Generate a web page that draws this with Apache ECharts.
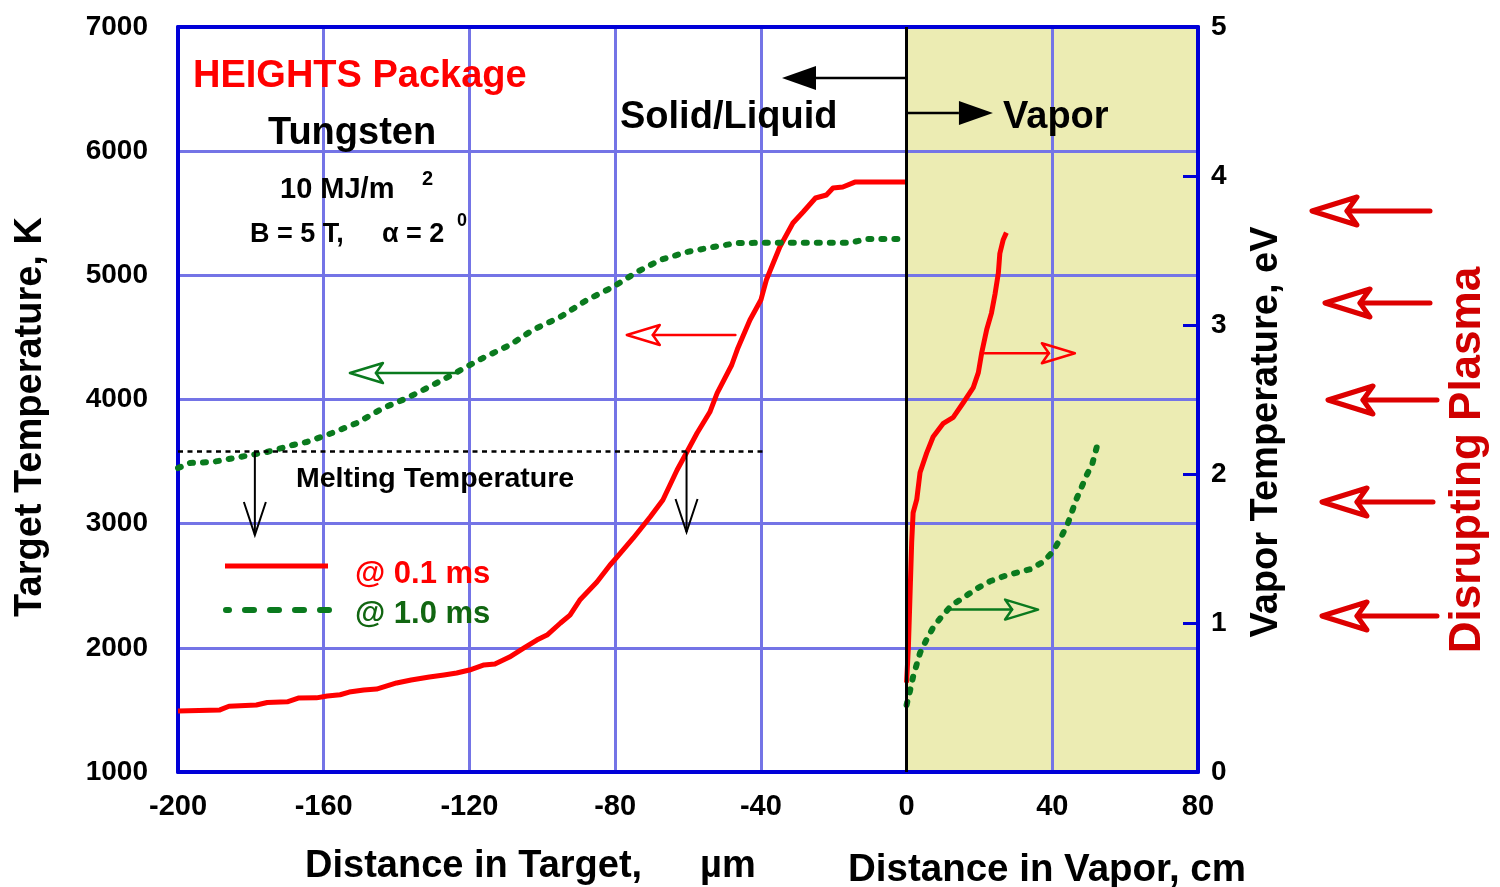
<!DOCTYPE html>
<html><head><meta charset="utf-8">
<script src="https://cdn.jsdelivr.net/npm/echarts@6/dist/echarts.min.js"></script>
<style>html,body{margin:0;padding:0;background:#fff}#c{width:1500px;height:887px}</style>
</head><body><div id="c"></div>
<script>
// ---- data ----
const xTickStep = 40;           // distance axis: µm (<0) in target, cm (>0) in vapor
const xRange = [-200, 80];
const leftRange = [1000, 7000]; // Target temperature, K
const rightRange = [0, 5];      // Vapor temperature, eV
const vaporRange = [0, 80];
const meltingT = 3580;
const meltingLineEnd = -39;

// target temperature (K) vs depth (µm) at 0.1 ms
const target01 = [[-200,1491],[-188.5,1500],[-186,1530],[-178.5,1540],[-175.5,1560],[-170,1565],[-167,1595],[-162,1597],[-159,1612],[-155.5,1622],[-153,1644],[-149,1660],[-145.5,1668],[-140,1717],[-136,1741],[-131,1765],[-127,1781],[-123.5,1797],[-120,1821],[-116,1862],[-113,1870],[-109,1926],[-105,1999],[-101.5,2063],[-98.7,2103],[-95,2200],[-92.4,2264],[-89.7,2385],[-85,2530],[-81.4,2667],[-79.5,2731],[-75,2885],[-70.4,3054],[-66.9,3191],[-63,3432],[-60.3,3577],[-57.5,3730],[-54,3899],[-52,4052],[-48,4278],[-46.3,4415],[-43,4640],[-40,4801],[-38.5,4962],[-34.8,5228],[-31.2,5421],[-28.4,5510],[-25,5623],[-22,5647],[-20.2,5703],[-17.5,5711],[-14.2,5751],[0,5751]];
// target temperature (K) vs depth (µm) at 1.0 ms
const target10 = [[-200,3448],[-196.7,3489],[-190.4,3497],[-183,3537],[-175.6,3577],[-168.4,3634],[-164.6,3658],[-157.7,3730],[-150.9,3811],[-143.7,3931],[-137.1,4012],[-130,4117],[-123.4,4221],[-116.3,4334],[-108.9,4439],[-102.6,4560],[-95.1,4664],[-87.8,4801],[-80.6,4906],[-74,5027],[-67.7,5123],[-60.3,5188],[-53.1,5228],[-46.6,5260],[-40,5262],[-15.5,5262],[-11,5293],[0,5293]];
// vapor temperature (eV) vs distance (cm) at 0.1 ms
const vapor01 = [[0,0.6],[0.5,0.84],[0.9,1.15],[1.4,1.54],[1.8,1.74],[2.8,1.83],[3.7,2.01],[5.5,2.14],[7.3,2.25],[10.1,2.34],[12.8,2.38],[15.6,2.48],[18.3,2.58],[19.7,2.68],[20.6,2.81],[22,2.97],[23.3,3.08],[24.3,3.21],[25.2,3.35],[25.6,3.48],[26.5,3.57],[27.4,3.62]];
// vapor temperature (eV) vs distance (cm) at 1.0 ms
const vapor10 = [[0,0.45],[0.9,0.54],[1.8,0.64],[3.7,0.8],[5.5,0.89],[7.3,0.97],[9.2,1.03],[12.4,1.12],[15.6,1.17],[19.2,1.23],[22.9,1.28],[27.4,1.32],[33.8,1.36],[37.5,1.41],[40.2,1.48],[42.5,1.58],[44.3,1.67],[46.6,1.83],[48,1.91],[49.4,1.99],[51,2.07],[52.2,2.18]];

// ---- annotation anchors (data coords) ----
const openArrows = [
  {from:[-47,4520], to:[-76.8,4520], color:'#ff0000', y:0},
  {from:[-123.4,4213], to:[-152.8,4213], color:'#0a7a1e', y:0},
  {from:[21.5,2.81], to:[46.2,2.81], color:'#ff0000', y:1},
  {from:[11.4,1.09], to:[36.1,1.09], color:'#0a7a1e', y:1}
];
const filledArrows = [
  {from:[0,6589], to:[-34.2,6589]},
  {from:[0,6307], to:[23.7,6307]}
];
const meltArrows = [
  {x:-178.9, from:meltingT, to:2909},
  {x:-60.4, from:meltingT, to:2933}
];

const F = '"Liberation Sans", Arial, Helvetica, sans-serif';
const BLUE = '#0000d8', GRIDC = '#7474e6';
const RED = '#ff0000', GREEN = '#0a7a1e';

const chart = echarts.init(document.getElementById('c'), null, {renderer:'canvas'});
const lbl = (m, extra) => Object.assign({fontSize:28, fontWeight:'bold', color:'#000', fontFamily:F, margin:m, formatter:v => String(v)}, extra||{});

const option = {
  animation:false,
  grid:{left:178, right:302, top:27, bottom:115},
  xAxis:[
    {type:'value', min:xRange[0], max:xRange[1], interval:xTickStep,
     axisLine:{show:true, onZero:false, lineStyle:{color:BLUE, width:4}},
     axisTick:{show:false},
     axisLabel:lbl(20,{fontSize:29}),
     splitLine:{show:true, lineStyle:{color:GRIDC, width:3}}},
    {type:'value', position:'top', min:xRange[0], max:xRange[1], interval:xTickStep,
     axisLine:{show:true, onZero:false, lineStyle:{color:BLUE, width:4}},
     axisTick:{show:false}, axisLabel:{show:false}, splitLine:{show:false}}
  ],
  yAxis:[
    {type:'value', position:'left', min:leftRange[0], max:leftRange[1], interval:1000,
     axisLine:{show:true, onZero:false, lineStyle:{color:BLUE, width:4}},
     axisTick:{show:false},
     axisLabel:lbl(30,{padding:[0,0,14,0]}),
     splitLine:{show:true, lineStyle:{color:GRIDC, width:3}}},
    {type:'value', position:'right', min:rightRange[0], max:rightRange[1], interval:1,
     axisLine:{show:true, onZero:false, lineStyle:{color:BLUE, width:4}},
     axisTick:{show:true, inside:true, length:15, lineStyle:{color:BLUE, width:3}},
     axisLabel:lbl(13,{padding:[0,0,10,0]}),
     splitLine:{show:false}}
  ],
  series:[
    {type:'custom', z:-1, silent:true, xAxisIndex:0, yAxisIndex:0, data:[[vaporRange[0], leftRange[0]]],
     renderItem:function(params, api){
       const p0 = api.coord([vaporRange[0], leftRange[1]]);
       const p1 = api.coord([vaporRange[1], leftRange[0]]);
       return {type:'rect', shape:{x:p0[0], y:p0[1], width:p1[0]-p0[0], height:p1[1]-p0[1]}, style:{fill:'#ececb3'}};
     }},
    {name:'@ 0.1 ms', type:'line', data:target01, xAxisIndex:0, yAxisIndex:0, symbol:'none', z:3,
     lineStyle:{color:RED, width:5, join:'round'},
     markLine:{silent:true, symbol:'none', label:{show:false},
       data:[
         [{coord:[0,leftRange[0]], lineStyle:{color:'#000', width:3, type:'solid'}},{coord:[0,leftRange[1]]}],
         [{coord:[xRange[0],meltingT], lineStyle:{color:'#000', width:2.5, type:[5,4.5]}},{coord:[meltingLineEnd,meltingT]}]
       ]}},
    {name:'@ 1.0 ms', type:'line', data:target10, xAxisIndex:0, yAxisIndex:0, symbol:'none', z:3,
     lineStyle:{color:GREEN, width:6, type:[3,10], cap:'round'}},
    {name:'vapor 0.1', type:'line', data:vapor01, xAxisIndex:0, yAxisIndex:1, symbol:'none', z:3,
     lineStyle:{color:RED, width:5, join:'round'}},
    {name:'vapor 1.0', type:'line', data:vapor10, xAxisIndex:0, yAxisIndex:1, symbol:'none', z:3,
     lineStyle:{color:GREEN, width:6, type:[3,10], cap:'round'}}
  ]
};
chart.setOption(option);

// ---- annotations ----
const px = (p, yi) => chart.convertToPixel({xAxisIndex:0, yAxisIndex:yi}, p);
const G = [];
function txt(s, x, y, size, color, opts){
  opts = opts || {};
  G.push({type:'text', x:x, y:y, rotation:opts.rot||0, z:100,
    style:{text:s, fill:color, font:'bold '+size+'px '+F,
      textAlign:opts.align||'left', align:opts.align||'left',
      textVerticalAlign:'middle', verticalAlign:'middle'}});
}
function openArrow(tail, tip, color, lw, len, half, notch){
  const dx = tail[0]-tip[0], dy = tail[1]-tip[1];
  const L = Math.hypot(dx,dy), ux = dx/L, uy = dy/L, qx = -uy, qy = ux;
  const pts = [[tip[0],tip[1]],
    [tip[0]+ux*len+qx*half, tip[1]+uy*len+qy*half],
    [tip[0]+ux*notch, tip[1]+uy*notch],
    [tip[0]+ux*len-qx*half, tip[1]+uy*len-qy*half]];
  G.push({type:'polygon', z:100, shape:{points:pts}, style:{fill:'none', stroke:color, lineWidth:lw, lineJoin:'round'}});
  G.push({type:'line', z:100, shape:{x1:tail[0], y1:tail[1], x2:tip[0]+ux*notch, y2:tip[1]+uy*notch}, style:{stroke:color, lineWidth:lw, lineCap:'round'}});
}
function filledArrow(tail, tip, len, half){
  const dx = tail[0]-tip[0], dy = tail[1]-tip[1];
  const L = Math.hypot(dx,dy), ux = dx/L, uy = dy/L, qx = -uy, qy = ux;
  G.push({type:'line', z:100, shape:{x1:tail[0], y1:tail[1], x2:tip[0]+ux*len, y2:tip[1]+uy*len}, style:{stroke:'#000', lineWidth:2.5}});
  G.push({type:'polygon', z:100, shape:{points:[[tip[0],tip[1]],[tip[0]+ux*len+qx*half, tip[1]+uy*len+qy*half],[tip[0]+ux*len-qx*half, tip[1]+uy*len-qy*half]]}, style:{fill:'#000'}});
}
openArrows.forEach(a => openArrow(px(a.from,a.y), px(a.to,a.y), a.color, 2.5, 33, 10, 26));
filledArrows.forEach(a => filledArrow(px(a.from,0), px(a.to,0), 34, 12));
meltArrows.forEach(a => {
  const t = px([a.x,a.from],0), b = px([a.x,a.to],0);
  G.push({type:'line', z:100, shape:{x1:t[0],y1:t[1],x2:b[0],y2:b[1]}, style:{stroke:'#000', lineWidth:2}});
  G.push({type:'polyline', z:100, shape:{points:[[b[0]-11,b[1]-33],[b[0],b[1]],[b[0]+11,b[1]-33]]}, style:{stroke:'#000', lineWidth:2, fill:'none'}});
});
// Disrupting plasma arrows (outside plot)
[[1430,1312,211],[1430,1325,303],[1437,1328,400],[1433,1322,502],[1437,1322,616]].forEach(a =>
  openArrow([a[0],a[2]],[a[1],a[2]],'#dd0000',5,45,14,35));

// legend
G.push({type:'line', z:100, shape:{x1:225,y1:566,x2:328,y2:566}, style:{stroke:RED, lineWidth:5}});
G.push({type:'line', z:100, shape:{x1:226,y1:610,x2:329,y2:610}, style:{stroke:GREEN, lineWidth:6, lineCap:'round', lineDash:[3,16,9,16,9,16,9,16,9,60]}});
txt('@ 0.1 ms', 355, 574, 31, RED);
txt('@ 1.0 ms', 355, 614, 31, '#116611');

// texts
txt('HEIGHTS Package', 193, 77, 38, RED);
txt('Tungsten', 268, 134, 38, '#000');
txt('10 MJ/m', 280, 190, 29, '#000');
txt('2', 422, 179, 20, '#000');
txt('B = 5 T,', 250, 235, 27, '#000');
txt('\u03b1 = 2', 382, 235, 27, '#000');
txt('0', 457, 221, 18, '#000');
txt('Solid/Liquid', 620, 118, 38, '#000');
txt('Vapor', 1003, 118, 38, '#000');
txt('Melting Temperature', 296, 479, 28.5, '#000');
txt('Target Temperature, K', 31, 417, 38, '#000', {rot:Math.PI/2, align:'center'});
txt('Vapor Temperature, eV', 1267, 432, 38, '#000', {rot:Math.PI/2, align:'center'});
txt('Disrupting Plasma', 1468, 460, 44, '#d00000', {rot:Math.PI/2, align:'center'});
txt('Distance in Target,', 305, 867, 38, '#000');
txt('\u00b5m', 700, 867, 38, '#000');
txt('Distance in Vapor, cm', 848, 870, 38.5, '#000');

chart.setOption({graphic:{elements:G}});
</script>
</body></html>
